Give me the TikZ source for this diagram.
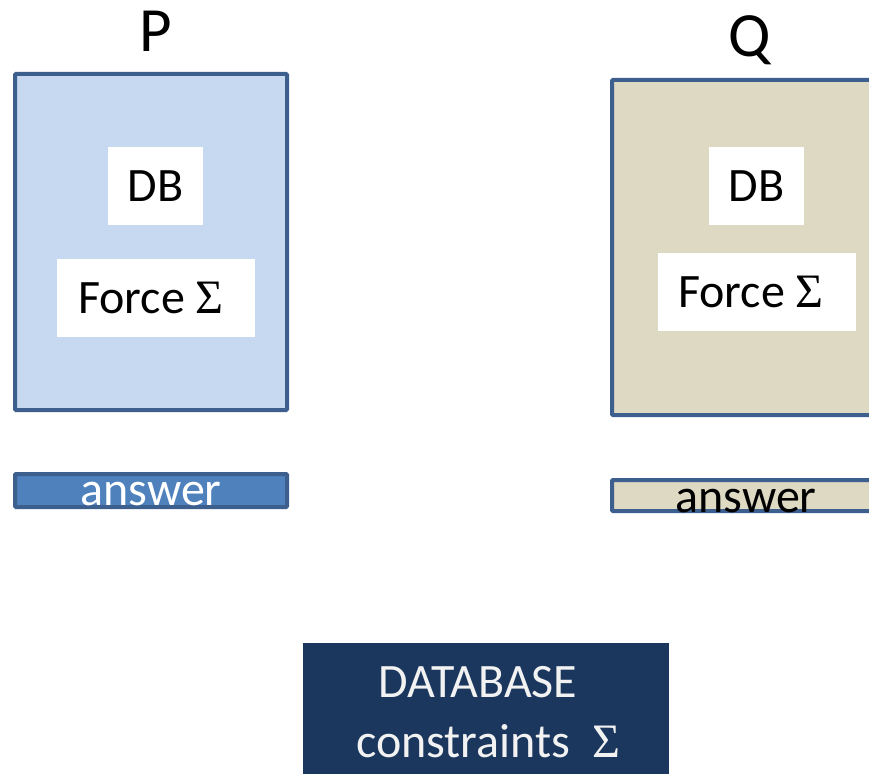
\documentclass[tikz,border=0pt]{standalone}
\usepackage{fontspec}
\setmainfont{Carlito}
\newfontfamily\sigfont{Liberation Serif}
\definecolor{edgeblue}{HTML}{3D5F8E}
\definecolor{pfill}{HTML}{C6D9F0}
\definecolor{qfill}{HTML}{DDD9C3}
\definecolor{ansblue}{HTML}{4F81BD}
\definecolor{navy}{HTML}{1B375E}
\definecolor{offwhite}{HTML}{F2F2F2}
\tikzset{
  outerbox/.style={draw=edgeblue, line width=4pt, rounded corners=1pt},
  whitebox/.style={fill=white, inner sep=0pt},
  lbl/.style={font=\fontsize{63}{63}\selectfont, inner sep=0pt, anchor=base},
  txt/.style={font=\fontsize{48}{48}\selectfont, inner sep=0pt, anchor=base},
}
\begin{document}
\begin{tikzpicture}[x=1pt,y=-1pt]
\useasboundingbox (0,0) rectangle (869,773);
\clip (0,0) rectangle (869,773);
% P side
\node[lbl] (plabel) at (156,52) {P};
\draw[outerbox, fill=pfill] (15,74) rectangle (287,410);
\node[whitebox, minimum width=95pt, minimum height=78pt] (pdb) at (155.5,186) {};
\node[txt] (pdbt) at (155.5,201) {DB};
\node[whitebox, minimum width=198pt, minimum height=78pt] (pforce) at (156,298) {};
\node[txt, anchor=base west] (pforcet) at (78,313) {Force {\sigfont Σ}};
\draw[outerbox, fill=ansblue] (15,474) rectangle (287,507);
\node[txt, text=white, anchor=base] (pans) at (151,505) {answer};
% Q side
\node[lbl] (qlabel) at (750,57) {Q};
\draw[outerbox, fill=qfill] (612,80) rectangle (900,415);
\node[whitebox, minimum width=95pt, minimum height=78pt] (qdb) at (756.5,186) {};
\node[txt] (qdbt) at (756.5,201) {DB};
\node[whitebox, minimum width=198pt, minimum height=78pt] (qforce) at (757,292) {};
\node[txt, anchor=base west] (qforcet) at (678,307) {Force {\sigfont Σ}};
\draw[outerbox, fill=qfill] (612,480) rectangle (900,511);
\node[txt, anchor=base] (qans) at (746,512) {answer};
% Database constraints
\fill[navy] (303,643) rectangle (669,790);
\node[txt, text=offwhite, anchor=base west] (dbt1) at (378,697) {DATABASE};
\node[txt, text=offwhite, anchor=base west] (dbt2) at (356,757) {constraints\ \ {\sigfont Σ}};
\end{tikzpicture}
\end{document}
